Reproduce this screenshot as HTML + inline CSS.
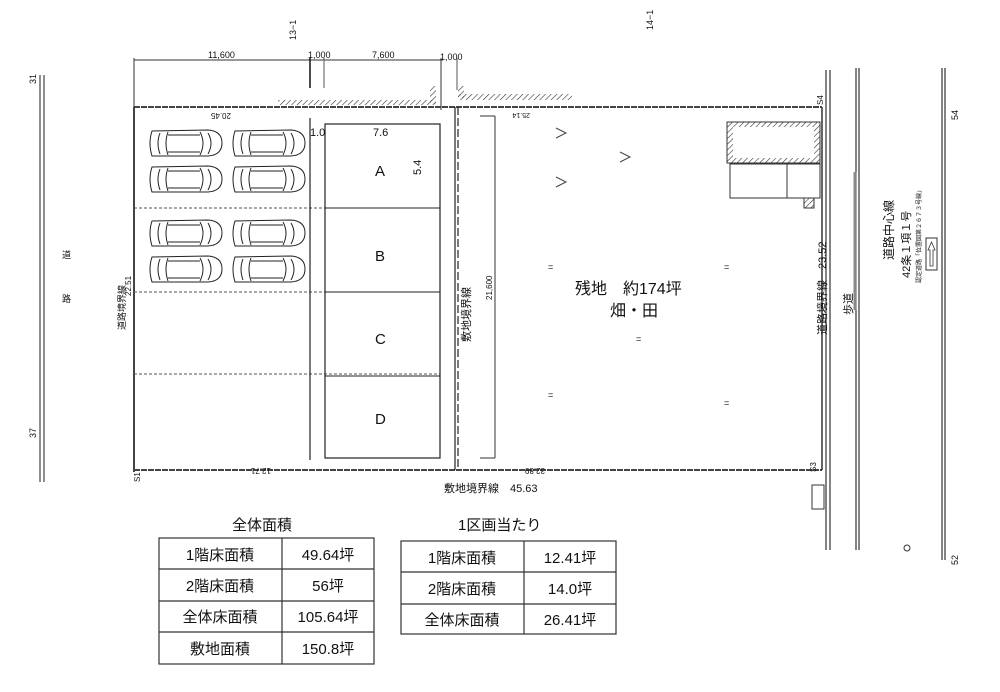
<!DOCTYPE html>
<html><head><meta charset="utf-8"><style>
body{margin:0;background:#fff}
svg{display:block}
text{font-family:"Liberation Sans","Noto Sans CJK JP",sans-serif;fill:#111}
</style></head><body>
<svg width="1000" height="692" viewBox="0 0 1000 692" xmlns="http://www.w3.org/2000/svg">
<defs>
<pattern id="h" width="4" height="4" patternUnits="userSpaceOnUse" patternTransform="rotate(45)"><line x1="0" y1="0" x2="0" y2="4" stroke="#333" stroke-width="1.2"/></pattern>
<g id="car" fill="none" stroke="#222" stroke-width="1">
<path d="M4 2 Q0 14 4 27 L60 27 Q74 26 74 14 Q74 2 60 1 Z"/>
<path d="M12 4 Q8 14 12 25 M20 3 Q16 14 20 26 M52 3 Q58 14 52 26 M60 4 Q66 14 60 25 M20 6 L52 6 M20 23 L52 23"/>
</g>
</defs>
<!-- left road -->
<line x1="40" y1="75" x2="40" y2="482" stroke="#444" stroke-width="1.2"/>
<line x1="44" y1="75" x2="44" y2="482" stroke="#444" stroke-width="1.2"/>
<text x="36" y="84" font-size="9" transform="rotate(-90 36 84)">31</text>
<text x="36" y="438" font-size="9" transform="rotate(-90 36 438)">37</text>
<text x="62" y="258" font-size="9">道</text><text x="62" y="302" font-size="9">路</text>
<!-- top dimension -->
<line x1="134" y1="60" x2="443" y2="60" stroke="#333"/>
<line x1="134" y1="58" x2="134" y2="110" stroke="#333"/>
<line x1="310" y1="58" x2="310" y2="88" stroke="#111" stroke-width="1.5"/>
<line x1="324" y1="58" x2="324" y2="88" stroke="#555"/>
<line x1="441" y1="58" x2="441" y2="110" stroke="#333"/>
<line x1="457" y1="58" x2="457" y2="90" stroke="#555"/>
<text x="208" y="58" font-size="9">11,600</text>
<text x="308" y="58" font-size="9">1,000</text>
<text x="372" y="58" font-size="9">7,600</text>
<text x="440" y="60" font-size="9">1,000</text>
<text x="296" y="40" font-size="9" transform="rotate(-90 296 40)">13−1</text>
<text x="653" y="30" font-size="9" transform="rotate(-90 653 30)">14−1</text>
<!-- hatched walls -->
<rect x="278" y="100" width="158" height="5" fill="url(#h)"/>
<rect x="430" y="86" width="6" height="18" fill="url(#h)"/>
<rect x="458" y="94" width="114" height="6" fill="url(#h)"/>
<rect x="458" y="86" width="6" height="12" fill="url(#h)"/>
<!-- boundary -->
<line x1="134" y1="107" x2="822" y2="107" stroke="#444" stroke-width="2" stroke-dasharray="6 1"/>
<line x1="134" y1="107" x2="134" y2="472" stroke="#444" stroke-width="2"/>
<line x1="134" y1="470" x2="822" y2="470" stroke="#444" stroke-width="2" stroke-dasharray="6 1"/>
<line x1="822" y1="107" x2="822" y2="470" stroke="#333" stroke-width="1.5"/>
<!-- right road lines -->
<line x1="826" y1="70" x2="826" y2="550" stroke="#333" stroke-width="1.2"/>
<line x1="830" y1="70" x2="830" y2="550" stroke="#333" stroke-width="1.2"/>
<line x1="856" y1="68" x2="856" y2="550" stroke="#333" stroke-width="1.2"/>
<line x1="859" y1="68" x2="859" y2="550" stroke="#333" stroke-width="1.2"/>
<line x1="855" y1="172" x2="855" y2="310" stroke="#888" stroke-width="3"/>
<line x1="942" y1="68" x2="942" y2="560" stroke="#333" stroke-width="1.2"/>
<line x1="945" y1="68" x2="945" y2="560" stroke="#333" stroke-width="1.2"/>
<text x="958" y="120" font-size="9" transform="rotate(-90 958 120)">54</text>
<text x="958" y="565" font-size="9" transform="rotate(-90 958 565)">52</text>
<text x="823" y="105" font-size="8" transform="rotate(-90 823 105)">S4</text>
<text x="816" y="472" font-size="8" transform="rotate(-90 816 472)">S3</text>
<text x="140" y="482" font-size="8" transform="rotate(-90 140 482)">S1</text>
<!-- road center texts -->
<text x="893" y="260" font-size="12" transform="rotate(-90 893 260)">道路中心線</text>
<text x="910" y="278" font-size="11" transform="rotate(-90 910 278)">42条１項１号</text>
<text x="921" y="283" font-size="6" transform="rotate(-90 921 283)">認定道路「位置図第２６７３号線」</text>
<rect x="926" y="238" width="11" height="32" fill="none" stroke="#333"/>
<path d="M931.5 242 L935 250 L933 250 L933 266 L930 266 L930 250 L928 250 Z" fill="none" stroke="#333" stroke-width=".8"/>
<text x="826" y="335" font-size="11" transform="rotate(-90 826 335)">道路境界線　23.52</text>
<text x="852" y="315" font-size="11" transform="rotate(-90 852 315)">歩道</text>
<!-- right small building -->
<rect x="727" y="122" width="93" height="41" fill="url(#h)" stroke="#333"/>
<rect x="733" y="127" width="81" height="31" fill="#fff"/>
<rect x="730" y="164" width="57" height="34" fill="none" stroke="#333"/>
<rect x="787" y="164" width="33" height="34" fill="none" stroke="#333"/>
<rect x="804" y="198" width="10" height="10" fill="url(#h)" stroke="#333"/>
<rect x="812" y="485" width="12" height="24" fill="none" stroke="#333"/>
<!-- left side label -->
<text x="125" y="330" font-size="9" transform="rotate(-90 125 330)">道路境界線</text>
<text x="131" y="296" font-size="8" transform="rotate(-90 131 296)">22.51</text>
<text x="231" y="113" font-size="8" transform="rotate(180 231 113)">20.45</text>
<text x="271" y="468" font-size="8" transform="rotate(180 271 468)">12.71</text>
<text x="545" y="468" font-size="8" transform="rotate(180 545 468)">32.89</text>
<text x="530" y="113" font-size="7" transform="rotate(180 530 113)">25.14</text>
<!-- dashed division lines -->
<line x1="134" y1="208" x2="440" y2="208" stroke="#555" stroke-dasharray="3 2"/>
<line x1="134" y1="292" x2="440" y2="292" stroke="#555" stroke-dasharray="3 2"/>
<line x1="134" y1="374" x2="440" y2="374" stroke="#555" stroke-dasharray="3 2"/>
<!-- buildings -->
<line x1="310" y1="118" x2="310" y2="460" stroke="#222" stroke-width="1.2"/>
<rect x="325" y="124" width="115" height="334" fill="none" stroke="#222" stroke-width="1.2"/>
<line x1="325" y1="208" x2="440" y2="208" stroke="#222"/>
<line x1="325" y1="292" x2="440" y2="292" stroke="#222"/>
<line x1="325" y1="376" x2="440" y2="376" stroke="#222"/>
<text x="310" y="136" font-size="11">1.0</text>
<text x="373" y="136" font-size="11">7.6</text>
<text x="436" y="160" font-size="11" transform="rotate(-90 436 175)">5.4</text>
<text x="375" y="176" font-size="15">A</text>
<text x="375" y="261" font-size="15">B</text>
<text x="375" y="344" font-size="15">C</text>
<text x="375" y="424" font-size="15">D</text>
<!-- cars -->
<use href="#car" x="148" y="129"/><use href="#car" x="231" y="129"/>
<use href="#car" x="148" y="165"/><use href="#car" x="231" y="165"/>
<use href="#car" x="148" y="219"/><use href="#car" x="231" y="219"/>
<use href="#car" x="148" y="255"/><use href="#car" x="231" y="255"/>
<!-- site boundary inner -->
<line x1="455" y1="107" x2="455" y2="470" stroke="#222" stroke-width="1.2"/>
<line x1="458" y1="107" x2="458" y2="470" stroke="#222" stroke-width="1.2" stroke-dasharray="8 3"/>
<line x1="495" y1="116" x2="495" y2="458" stroke="#333"/>
<line x1="480" y1="116" x2="495" y2="116" stroke="#333"/>
<line x1="480" y1="458" x2="495" y2="458" stroke="#333"/>
<text x="470" y="342" font-size="11" transform="rotate(-90 470 342)">敷地境界線</text>
<text x="492" y="300" font-size="8" transform="rotate(-90 492 300)">21,600</text>
<!-- symbols -->
<path d="M556 128 L566 133 L556 138 M620 152 L630 157 L620 162 M556 177 L566 182 L556 187" fill="none" stroke="#444"/>
<text x="548" y="270" font-size="9">=</text><text x="548" y="398" font-size="9">=</text>
<text x="724" y="270" font-size="9">=</text><text x="724" y="406" font-size="9">=</text>
<text x="636" y="342" font-size="9">=</text>
<text x="575" y="294" font-size="16">残地　約174坪</text>
<text x="610" y="316" font-size="16">畑・田</text>
<text x="444" y="492" font-size="11">敷地境界線　45.63</text>
<!-- tables -->
<text x="232" y="530" font-size="15">全体面積</text>
<text x="458" y="530" font-size="15">1区画当たり</text>
<g fill="none" stroke="#333" stroke-width="1.2">
<rect x="159" y="538" width="215" height="126"/>
<line x1="159" y1="569" x2="374" y2="569"/><line x1="159" y1="601" x2="374" y2="601"/><line x1="159" y1="632" x2="374" y2="632"/>
<line x1="282" y1="538" x2="282" y2="664"/>
<rect x="401" y="541" width="215" height="93"/>
<line x1="401" y1="572" x2="616" y2="572"/><line x1="401" y1="604" x2="616" y2="604"/>
<line x1="524" y1="541" x2="524" y2="634"/>
</g>
<g font-size="15" text-anchor="middle">
<text x="220" y="560">1階床面積</text><text x="328" y="560">49.64坪</text>
<text x="220" y="591">2階床面積</text><text x="328" y="591">56坪</text>
<text x="220" y="622">全体床面積</text><text x="328" y="622">105.64坪</text>
<text x="220" y="654">敷地面積</text><text x="328" y="654">150.8坪</text>
<text x="462" y="563">1階床面積</text><text x="570" y="563">12.41坪</text>
<text x="462" y="594">2階床面積</text><text x="570" y="594">14.0坪</text>
<text x="462" y="625">全体床面積</text><text x="570" y="625">26.41坪</text>
</g>
<circle cx="907" cy="548" r="3" fill="none" stroke="#333"/>
</svg>
</body></html>
